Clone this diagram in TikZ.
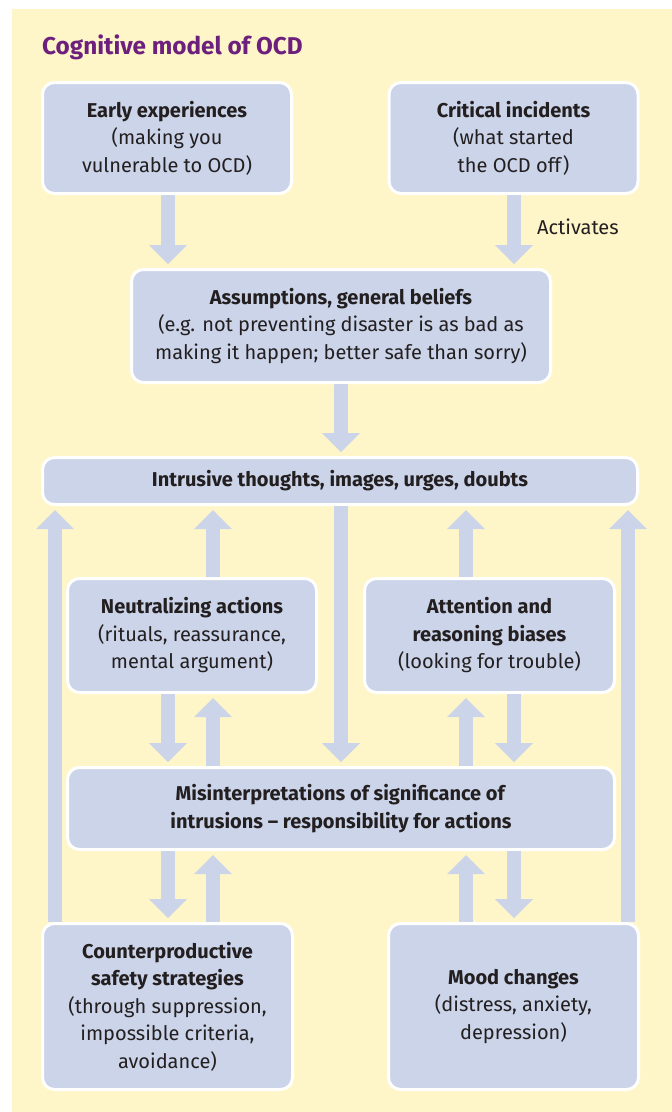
\documentclass[tikz,border=0pt]{standalone}
\usepackage{fontspec}
\setmainfont{Fira Sans}
\usetikzlibrary{arrows.meta}
\definecolor{bgyellow}{HTML}{FEF6C9}
\definecolor{boxblue}{HTML}{CBD4E9}
\definecolor{inkdark}{HTML}{231F20}
\definecolor{titlepurple}{HTML}{6D1F7D}
\begin{document}
\begin{tikzpicture}[x=1pt,y=-1pt,
  box/.style={rectangle, rounded corners=12pt, fill=boxblue, draw=white,
    line width=3pt, align=center, text=inkdark, inner sep=0pt,
    font=\fontsize{20}{27.5}\selectfont},
  fat/.style={draw=boxblue, line width=14pt,
    -{Triangle[width=38pt,length=19pt,line width=0pt]}, shorten >=4pt},
  plain/.style={text=inkdark, inner sep=0pt, font=\fontsize{20}{27.5}\selectfont}]
% page and panel
\fill[white] (0,0) rectangle (672,1112);
\fill[bgyellow] (12,9) rectangle (672,1112);
\useasboundingbox (0,0) rectangle (672,1112);

\node[anchor=base west, text=titlepurple, inner sep=0pt,
  font=\fontsize{24.3}{28}\selectfont\bfseries] (title) at (42,54)
  {Cognitive model of OCD};

% boxes
\node[box, minimum width=249pt, minimum height=111pt] (early) at (167,138)
  {\textbf{Early experiences}\\(making you\\vulnerable to OCD)};
\node[box, minimum width=249pt, minimum height=111pt] (crit) at (513.5,138)
  {\textbf{Critical incidents}\\(what started\\the OCD off)};
\node[box, minimum width=419pt, minimum height=113pt] (assume) at (341,326)
  {\textbf{Assumptions, general beliefs}\\(e.g. not preventing disaster is as bad as\\making it happen; better safe than sorry)};
\node[box, minimum width=595pt, minimum height=47pt] (intr) at (340,481)
  {\raisebox{-3pt}{\textbf{Intrusive thoughts, images, urges, doubts}}};
\node[box, minimum width=249pt, minimum height=114pt] (neut) at (192,635.5)
  {\textbf{Neutralizing actions}\\(rituals, reassurance,\\mental argument)};
\node[box, minimum width=250pt, minimum height=114pt] (attn) at (489.5,635.5)
  {\textbf{Attention and}\\\textbf{reasoning biases}\\(looking for trouble)};
\node[box, minimum width=547pt, minimum height=82pt] (mis) at (341,808.5)
  {\textbf{Misinterpretations of significance of}\\\textbf{intrusions -- responsibility for actions}};
\node[box, minimum width=250pt, minimum height=166pt] (counter) at (167.5,1006.5)
  {\textbf{Counterproductive}\\\textbf{safety strategies}\\(through suppression,\\impossible criteria,\\avoidance)};
\node[box, minimum width=250pt, minimum height=166pt] (mood) at (513.5,1006.5)
  {\textbf{Mood changes}\\(distress, anxiety,\\depression)};

% arrow columns
\coordinate (cA) at (55,0);
\coordinate (cB) at (168,0);
\coordinate (cC) at (213,0);
\coordinate (cD) at (341,0);
\coordinate (cE) at (466,0);
\coordinate (cF) at (514,0);
\coordinate (cG) at (628,0);

% top part
\draw[fat] (early.south -| cB) -- (assume.north -| cB);
\draw[fat] (crit.south -| cF) -- (assume.north -| cF);
\node[plain, anchor=base west] (act) at (537,234) {Activates};
\draw[fat] (assume.south -| cD) -- (intr.north -| cD);

% feedback to intrusions
\draw[fat] (counter.north -| cA) -- (intr.south -| cA);
\draw[fat] (neut.north -| cC) -- (intr.south -| cC);
\draw[fat] (intr.south -| cD) -- (mis.north -| cD);
\draw[fat] (attn.north -| cE) -- (intr.south -| cE);
\draw[fat] (mood.north -| cG) -- (intr.south -| cG);

% two-way links with the misinterpretations box
\draw[fat] (neut.south -| cB) -- (mis.north -| cB);
\draw[fat] (mis.north -| cC) -- (neut.south -| cC);
\draw[fat] (mis.north -| cE) -- (attn.south -| cE);
\draw[fat] (attn.south -| cF) -- (mis.north -| cF);
\draw[fat] (mis.south -| cB) -- (counter.north -| cB);
\draw[fat] (counter.north -| cC) -- (mis.south -| cC);
\draw[fat] (mood.north -| cE) -- (mis.south -| cE);
\draw[fat] (mis.south -| cF) -- (mood.north -| cF);
\end{tikzpicture}
\end{document}
